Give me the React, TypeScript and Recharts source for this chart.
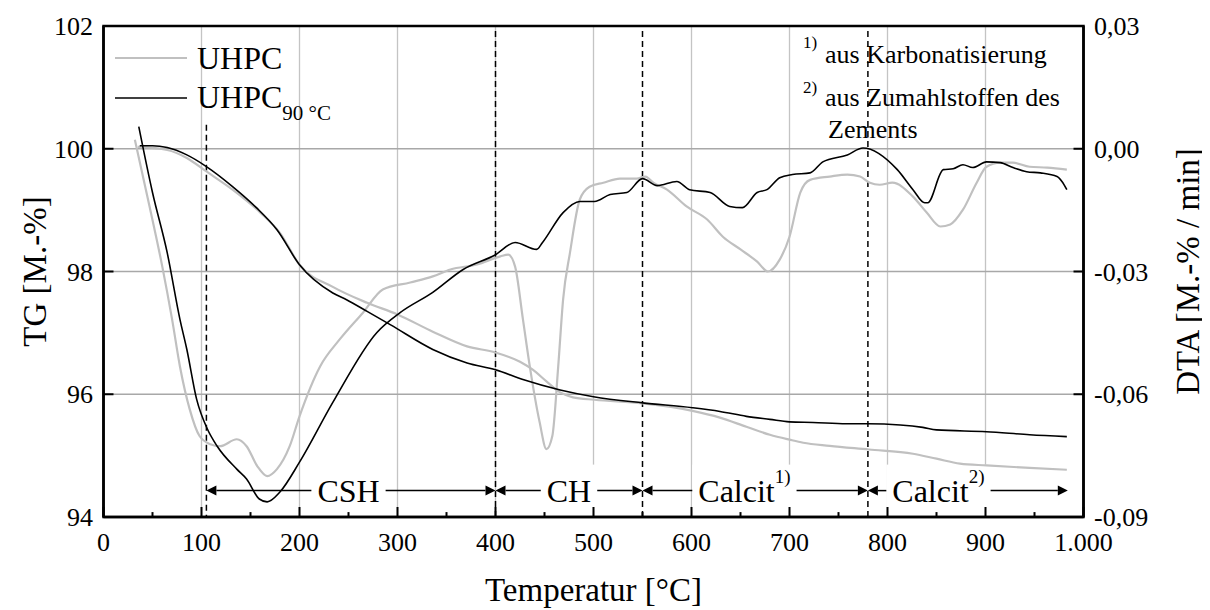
import { LineChart, Line, XAxis, YAxis, CartesianGrid, ReferenceLine, ReferenceArea } from 'recharts';

const FONT = '"Liberation Serif", "Times New Roman", serif';
const W = 1202;
const H = 602;

// TG-Kurven [Temperatur °C, M.-%]
const TG_UHPC: [number, number][] = [
  [35, 100.03], [65, 99.98], [85, 99.85], [105, 99.63], [132, 99.33], [160, 98.96], [180, 98.63],
  [200, 98.11], [234, 97.75], [269, 97.49], [300, 97.3], [336, 97.02], [371, 96.78], [400, 96.68],
  [425, 96.53], [438, 96.4], [452, 96.21], [466, 96.03], [479, 95.95], [501, 95.91], [550, 95.85],
  [601, 95.73], [629, 95.62], [656, 95.47], [680, 95.34], [700, 95.26], [714, 95.21], [741, 95.16],
  [781, 95.1], [826, 95.03], [850, 94.95], [874, 94.87], [901, 94.84], [945, 94.8], [983, 94.77],
];

const TG_UHPC90: [number, number][] = [
  [37, 100.05], [50, 100.05], [65, 100.02], [85, 99.9], [105, 99.71], [132, 99.38], [156, 99.04],
  [177, 98.68], [200, 98.11], [234, 97.65], [248, 97.54], [269, 97.35], [293, 97.13], [336, 96.73],
  [371, 96.51], [400, 96.4], [428, 96.24], [466, 96.07], [500, 95.96], [550, 95.86], [601, 95.78],
  [629, 95.72], [656, 95.64], [680, 95.59], [700, 95.55], [724, 95.54], [758, 95.52], [780, 95.52],
  [813, 95.5], [836, 95.46], [850, 95.42], [901, 95.39], [945, 95.34], [983, 95.31],
];

// DTA-Kurven [Temperatur °C, M.-%/min]
const DTA_UHPC: [number, number][] = [
  [32, 0.0022], [47, -0.0141], [60, -0.0288], [70, -0.0417], [78, -0.0532], [88, -0.0637],
  [98, -0.0702], [109, -0.0722], [119, -0.0727], [136, -0.071], [146, -0.0727], [157, -0.0776],
  [167, -0.08], [177, -0.0783], [190, -0.0727], [200, -0.0654], [221, -0.0532], [241, -0.0466],
  [265, -0.04], [285, -0.0344], [313, -0.0327], [336, -0.0312], [354, -0.0295], [381, -0.0283],
  [405, -0.0263], [413, -0.0259], [420, -0.0288], [428, -0.0417], [435, -0.0532], [445, -0.0668],
  [452, -0.0734], [458, -0.0702], [464, -0.0532], [469, -0.0368], [476, -0.0254], [486, -0.0124],
  [496, -0.0093], [510, -0.0083], [527, -0.0073], [544, -0.0073], [553, -0.0068], [561, -0.0083],
  [575, -0.01], [595, -0.0141], [616, -0.0173], [632, -0.0215], [650, -0.0246], [667, -0.0276],
  [678, -0.03], [690, -0.0271], [700, -0.0215], [711, -0.0107], [721, -0.0076], [741, -0.0068],
  [759, -0.0063], [772, -0.0068], [782, -0.0083], [792, -0.0088], [805, -0.0083], [826, -0.0117],
  [840, -0.0156], [854, -0.019], [864, -0.0185], [877, -0.0149], [891, -0.0083], [901, -0.0044],
  [915, -0.0034], [928, -0.0034], [945, -0.0044], [963, -0.0046], [983, -0.0051],
];

const DTA_UHPC90: [number, number][] = [
  [36, 0.0054], [50, -0.0107], [65, -0.0254], [78, -0.0417], [85, -0.049], [95, -0.0612],
  [106, -0.0685], [116, -0.0727], [136, -0.0783], [146, -0.0807], [159, -0.0856], [167, -0.0863],
  [180, -0.0839], [200, -0.0766], [234, -0.062], [279, -0.0449], [303, -0.04], [336, -0.0351],
  [367, -0.0295], [400, -0.0259], [420, -0.0229], [442, -0.0246], [448, -0.0229], [469, -0.0156],
  [486, -0.0129], [501, -0.0129], [517, -0.0112], [534, -0.0107], [550, -0.0073], [565, -0.009],
  [585, -0.008], [598, -0.01], [619, -0.0107], [639, -0.0141], [652, -0.0144], [667, -0.0107],
  [677, -0.01], [690, -0.0071], [703, -0.0063], [721, -0.0059], [734, -0.0032], [759, -0.0015],
  [775, 0.0002], [810, -0.0051], [826, -0.01], [838, -0.0132], [841, -0.0132], [857, -0.0051],
  [867, -0.0049], [877, -0.0039], [887, -0.0046], [901, -0.0032], [915, -0.0034], [928, -0.0046],
  [942, -0.0056], [956, -0.0059], [973, -0.0068], [978, -0.008], [983, -0.01],
];

const X_TICKS = [0, 100, 200, 300, 400, 500, 600, 700, 800, 900, 1000];
const X_MINOR = [50, 150, 250, 350, 450, 550, 650, 750, 850, 950];
const TG_TICKS = [94, 96, 98, 100, 102];
const DTA_TICKS = [-0.09, -0.06, -0.03, 0, 0.03];
const PHASE_LINES = [400, 550, 780];

// Bereiche mit Pfeilen unten im Diagramm
const REGIONS = [
  { from: 105, to: 400, label: 'CSH', sup: '', at: 250 },
  { from: 400, to: 550, label: 'CH', sup: '', at: 475 },
  { from: 550, to: 780, label: 'Calcit', sup: '1)', at: 654 },
  { from: 780, to: 984, label: 'Calcit', sup: '2)', at: 852 },
];
const REGION_Y = 94.43;

const toPoints = (arr: [number, number][]) => arr.map(([t, v]) => ({ t, v }));

// grobe Zeichenbreiten (Times) zum Freistellen der Beschriftung
const CW: Record<string, number> = { C: 0.667, S: 0.556, H: 0.722, a: 0.444, l: 0.278, c: 0.444, i: 0.278, t: 0.278, '1': 0.5, '2': 0.5, ')': 0.333 };
const textW = (s: string, size: number) => s.split('').reduce((w, ch) => w + (CW[ch] ?? 0.5) * size, 0);

function RegionArrow(props: any) {
  const { region } = props;
  const x1 = Number(props.x1);
  const x2 = Number(props.x2);
  const y = Number(props.y1);
  const frac = (region.at - region.from) / (region.to - region.from);
  const cx = x1 + (x2 - x1) * frac;
  const mainW = textW(region.label, 32);
  const supW = textW(region.sup, 19);
  const tw = mainW + supW;
  const ts = cx - tw / 2;
  const te = cx + tw / 2;
  const gap = 6;
  const ah = 10;
  return (
    <g>
      <rect x={ts - gap} y={y - 26} width={tw + 2 * gap} height={46} fill="#fff" />
      <line x1={x1 + ah} y1={y} x2={ts - gap} y2={y} stroke="#000" strokeWidth={1.5} />
      <line x1={te + gap} y1={y} x2={x2 - ah} y2={y} stroke="#000" strokeWidth={1.5} />
      <polygon points={`${x1},${y} ${x1 + ah},${y - 5} ${x1 + ah},${y + 5}`} fill="#000" />
      <polygon points={`${x2},${y} ${x2 - ah},${y - 5} ${x2 - ah},${y + 5}`} fill="#000" />
      <text x={ts} y={y + 11} fontSize={32} fontFamily={FONT} fill="#000">
        {region.label}
        {region.sup && (
          <tspan fontSize={19} dy={-19}>{region.sup}</tspan>
        )}
      </text>
    </g>
  );
}

const fmtX = (v: number) => (v === 1000 ? '1.000' : String(v));
const fmtDta = (v: number) => v.toFixed(2).replace('.', ',');

export default function App() {
  const tickStyle = { fontSize: 26, fill: '#000', fontFamily: FONT };
  const titleStyle = { fontSize: 33, fill: '#000', fontFamily: FONT, textAnchor: 'middle' as const };
  return (
    <div style={{ position: 'relative', width: W, height: H, fontFamily: FONT }}>
      <LineChart width={W} height={H} margin={{ top: 18, right: 0, bottom: 0, left: 0 }}>
        <CartesianGrid horizontal={false} stroke="#c4c4c4" strokeWidth={1.3} yAxisId="tg" />
        <CartesianGrid vertical={false} stroke="#a8a8a8" strokeWidth={1.3} yAxisId="tg" />
        <XAxis
          dataKey="t"
          type="number"
          domain={[0, 1000]}
          ticks={X_TICKS}
          tickFormatter={fmtX}
          allowDataOverflow
          height={93}
          tickSize={-10}
          tickMargin={26}
          tick={tickStyle}
          axisLine={{ stroke: '#000', strokeWidth: 2.5 }}
          tickLine={{ stroke: '#000', strokeWidth: 2 }}
          label={{ value: 'Temperatur [°C]', position: 'insideBottom', offset: 9, style: titleStyle }}
        />
        <YAxis
          yAxisId="tg"
          domain={[94, 102]}
          ticks={TG_TICKS}
          allowDataOverflow
          width={95.5}
          tickSize={-10}
          tickMargin={20.5}
          tick={tickStyle}
          axisLine={{ stroke: '#000', strokeWidth: 2.5 }}
          tickLine={{ stroke: '#000', strokeWidth: 2 }}
          label={{ value: 'TG [M.-%]', angle: -90, position: 'insideLeft', offset: 26, style: titleStyle }}
        />
        <YAxis
          yAxisId="dta"
          orientation="right"
          domain={[-0.09, 0.03]}
          ticks={DTA_TICKS}
          tickFormatter={fmtDta}
          allowDataOverflow
          width={126.5}
          tickSize={-10}
          tickMargin={20.5}
          tick={tickStyle}
          axisLine={{ stroke: '#000', strokeWidth: 2.5 }}
          tickLine={{ stroke: '#000', strokeWidth: 2 }}
          label={{ value: 'DTA [M.-% / min]', angle: -90, position: 'insideRight', offset: 23, style: titleStyle }}
        />

        {X_MINOR.map((t) => (
          <ReferenceLine
            key={'m' + t}
            yAxisId="tg"
            segment={[{ x: t, y: 94 }, { x: t, y: 94.08 }]}
            stroke="#000"
            strokeWidth={2}
          />
        ))}

        <ReferenceLine
          yAxisId="tg"
          segment={[{ x: 105, y: 100.39 }, { x: 105, y: 94 }]}
          stroke="#000"
          strokeWidth={1.5}
          strokeDasharray="6 4"
        />
        {PHASE_LINES.map((t) => (
          <ReferenceLine key={'p' + t} yAxisId="tg" x={t} stroke="#000" strokeWidth={1.5} strokeDasharray="6 4" />
        ))}

        {REGIONS.map((r, i) => (
          <ReferenceLine
            key={'r' + i}
            yAxisId="tg"
            segment={[{ x: r.from, y: REGION_Y }, { x: r.to, y: REGION_Y }]}
            shape={(p: any) => <RegionArrow {...p} region={r} />}
          />
        ))}

        <Line data={toPoints(TG_UHPC)} dataKey="v" yAxisId="tg" type="monotone" stroke="#c0c0c0" strokeWidth={2.2} dot={false} isAnimationActive={false} />
        <Line data={toPoints(DTA_UHPC)} dataKey="v" yAxisId="dta" type="monotone" stroke="#c0c0c0" strokeWidth={2.2} dot={false} isAnimationActive={false} />
        <Line data={toPoints(TG_UHPC90)} dataKey="v" yAxisId="tg" type="monotone" stroke="#000" strokeWidth={1.6} dot={false} isAnimationActive={false} />
        <Line data={toPoints(DTA_UHPC90)} dataKey="v" yAxisId="dta" type="monotone" stroke="#000" strokeWidth={1.6} dot={false} isAnimationActive={false} />

        <ReferenceArea yAxisId="tg" x1={0} x2={1000} y1={94} y2={102} fill="none" stroke="#000" strokeWidth={2.5} />
      </LineChart>

      {/* Legende und Fußnoten */}
      <svg width={W} height={H} style={{ position: 'absolute', left: 0, top: 0, pointerEvents: 'none', fontFamily: FONT }}>
        <line x1={107} y1={50} x2={179} y2={50} stroke="#c0c0c0" strokeWidth={2.2} />
        <text x={189} y={61} fontSize={32} fill="#000">UHPC</text>
        <line x1={107} y1={90} x2={179} y2={90} stroke="#000" strokeWidth={1.6} />
        <text x={189} y={100} fontSize={32} fill="#000">
          UHPC<tspan fontSize={21} dy={12}>90 °C</tspan>
        </text>

        <text x={795} y={40} fontSize={17} fill="#000">1)</text>
        <text x={817} y={55} fontSize={26} fill="#000">aus Karbonatisierung</text>
        <text x={795} y={85} fontSize={17} fill="#000">2)</text>
        <text x={817} y={98} fontSize={26} fill="#000">aus Zumahlstoffen des</text>
        <text x={820} y={130} fontSize={26} fill="#000">Zements</text>
      </svg>
    </div>
  );
}
